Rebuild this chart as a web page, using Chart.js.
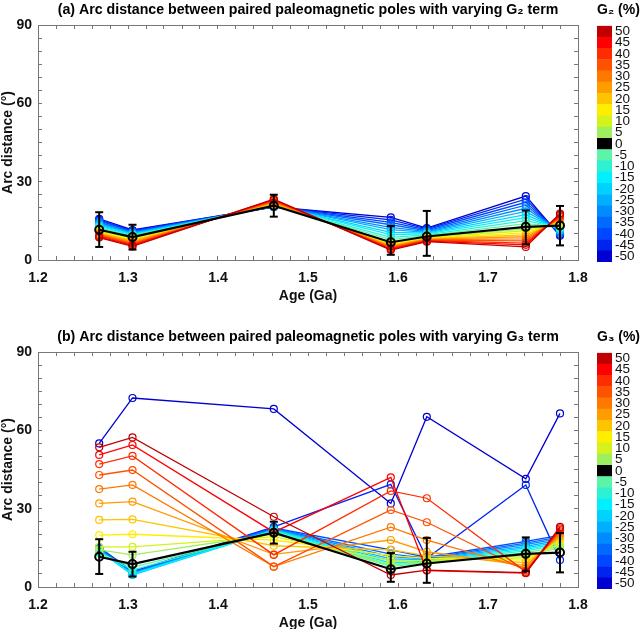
<!DOCTYPE html>
<html lang="en">
<head>
<meta charset="UTF-8">
<title>Arc distance between paired paleomagnetic poles</title>
<script src="https://cdn.jsdelivr.net/npm/chart.js"></script>
<style>
  html, body {margin: 0; padding: 0; background: #fff; overflow: hidden;}
  #page {position: relative; width: 640px; height: 629px;}
  .panel {position: absolute; left: 0; width: 640px; height: 310px;}
  .cbar {position: absolute; left: 588px; width: 52px; height: 310px;}
</style>
</head>
<body>
<div id="page">
  <div class="panel" style="top:0"><canvas id="chartA"></canvas></div>
  <div class="cbar" style="top:0"><canvas id="cbarA"></canvas></div>
  <div class="panel" style="top:327px"><canvas id="chartB"></canvas></div>
  <div class="cbar" style="top:327px"><canvas id="cbarB"></canvas></div>
</div>
<script>
// ages of the paired poles (Ga)
const ages = [1.268, 1.305, 1.462, 1.592, 1.632, 1.742, 1.78];

// G = 0 reference line and its error bars (arc distance, degrees)
const baseArc = [11.6, 8.8, 20.8, 6.8, 9.0, 12.7, 13.2];
const errLow  = [5.0, 4.0, 16.6, 2.0, 1.6, 6.0, 5.6];
const errHigh = [18.3, 13.5, 25.0, 13.0, 18.8, 19.0, 20.7];

// colorbar levels (%), top to bottom
const cbarLevels = [50, 45, 40, 35, 30, 25, 20, 15, 10, 5, 0, -5, -10, -15, -20, -25, -30, -35, -40, -45, -50];

// levels drawn as coloured lines (same order as the rows below)
const lineLevels = [50, 45, 40, 35, 30, 25, 20, 15, 10, 5, -5, -10, -15, -20, -25, -30, -35, -40, -45, -50];

// panel (a): varying G2
const g2Arc = [
  [8.6, 5.2, 23.3, 3.8, 7.0, 5.0, 17.8],
  [8.9, 5.6, 23.1, 4.1, 7.2, 5.8, 17.3],
  [9.2, 5.9, 22.8, 4.4, 7.4, 6.5, 16.9],
  [9.5, 6.3, 22.6, 4.7, 7.6, 7.3, 16.4],
  [9.8, 6.6, 22.3, 5.0, 7.8, 8.1, 16.0],
  [10.1, 7.0, 22.1, 5.3, 8.0, 8.9, 15.5],
  [10.4, 7.4, 21.8, 5.6, 8.2, 9.6, 15.0],
  [10.7, 7.7, 21.6, 5.9, 8.4, 10.4, 14.6],
  [11.0, 8.1, 21.3, 6.2, 8.6, 11.2, 14.1],
  [11.3, 8.4, 21.1, 6.5, 8.8, 11.9, 13.7],
  [12.0, 9.1, 20.8, 7.8, 9.3, 13.9, 12.8],
  [12.4, 9.3, 20.7, 8.7, 9.6, 15.1, 12.4],
  [12.9, 9.6, 20.7, 9.7, 10.0, 16.2, 12.0],
  [13.3, 9.9, 20.6, 10.6, 10.3, 17.4, 11.6],
  [13.7, 10.2, 20.6, 11.6, 10.6, 18.6, 11.3],
  [14.1, 10.4, 20.5, 12.5, 10.9, 19.8, 10.9],
  [14.5, 10.7, 20.5, 13.5, 11.2, 21.0, 10.5],
  [15.0, 11.0, 20.4, 14.4, 11.6, 22.1, 10.1],
  [15.4, 11.2, 20.4, 15.4, 11.9, 23.3, 9.7],
  [15.8, 11.5, 20.3, 16.3, 12.2, 24.5, 9.3]
];

// panel (b): varying G3
const g3Arc = [
  [53.5, 57.3, 26.9, 4.6, 6.5, 5.5, 23.0],
  [50.6, 54.4, 21.0, 42.0, 6.3, 5.3, 22.5],
  [47.1, 50.2, 12.3, 36.8, 34.0, 5.8, 22.0],
  [42.9, 44.8, 7.8, 29.5, 24.8, 6.3, 21.3],
  [37.5, 39.1, 7.8, 22.9, 18.0, 7.2, 20.5],
  [32.0, 32.7, 12.5, 18.0, 13.5, 8.2, 19.7],
  [25.7, 25.9, 15.8, 14.2, 12.0, 9.3, 18.8],
  [19.9, 20.2, 18.0, 12.0, 11.0, 10.3, 17.8],
  [15.4, 15.4, 19.3, 10.0, 10.2, 11.2, 16.5],
  [14.2, 12.3, 20.3, 8.5, 9.6, 12.0, 15.0],
  [13.0, 7.5, 21.2, 7.8, 9.3, 13.2, 15.5],
  [13.3, 6.5, 21.4, 8.5, 9.6, 13.8, 16.2],
  [13.7, 5.0, 21.6, 9.2, 9.9, 14.4, 16.8],
  [14.0, 4.6, 21.8, 10.0, 10.2, 15.0, 17.4],
  [14.3, 4.8, 22.0, 10.8, 10.5, 15.6, 18.0],
  [14.6, 5.2, 22.2, 11.6, 10.8, 16.2, 18.6],
  [14.8, 5.5, 22.4, 12.6, 11.1, 16.8, 19.2],
  [15.0, 5.8, 22.6, 14.2, 11.4, 17.5, 19.8],
  [15.2, 6.0, 23.0, 39.3, 11.0, 39.1, 10.3],
  [55.0, 72.4, 68.2, 32.0, 65.2, 41.4, 66.5]
];

// colours for cbarLevels (jet-like, black for 0)
const cbarColors = ['#c00000', '#ff0000', '#ff2c00', '#ff5200', '#ff7800', '#ff9c00', '#ffc400', '#ffee00', '#d4f21c', '#9cf060',
                    '#000000', '#5cf5a8', '#2ef0d2', '#00f0ff', '#00d2ff', '#00b0ff', '#008cff', '#006aff', '#0048ff', '#0024f0', '#0000d0'];

const fontFam = "'Liberation Sans', Arial, Helvetica, sans-serif";
const axisGray = '#777';

function colorOf(lv){
  return cbarColors[cbarLevels.indexOf(lv)];
}

function makePanel(id, title, values){
  const sets = [];
  sets.push({
    data: ages.map((a, j) => ({x: a, y: baseArc[j]})),
    borderColor: '#000', borderWidth: 2.2,
    pointRadius: 4, pointBorderWidth: 2, pointBorderColor: '#000', pointBackgroundColor: 'rgba(0,0,0,0)',
    order: 0
  });
  ages.forEach((a, j) => {
    sets.push({
      data: [{x: a, y: errLow[j]}, {x: a, y: errHigh[j]}],
      borderColor: '#000', borderWidth: 2,
      pointStyle: 'line', pointRadius: 4, pointBorderWidth: 2, pointBorderColor: '#000',
      order: 0
    });
  });
  lineLevels.forEach((lv, i) => {
    sets.push({
      data: ages.map((a, j) => ({x: a, y: values[i][j]})),
      borderColor: colorOf(lv), borderWidth: 1.3,
      pointRadius: 3.5, pointBorderWidth: 1.2, pointBorderColor: colorOf(lv), pointBackgroundColor: 'rgba(0,0,0,0)',
      order: 1
    });
  });

  const inTicks = {display: true, drawOnChartArea: false, drawTicks: true, tickLength: -4, color: axisGray};
  const tickFont = {family: fontFam, size: 14, weight: 'bold'};

  new Chart(document.getElementById(id), {
    type: 'line',
    data: {datasets: sets},
    options: {
      responsive: true, maintainAspectRatio: false, animation: false,
      layout: {padding: {left: 0, right: 62, top: 0, bottom: 0}},
      plugins: {
        legend: {display: false},
        tooltip: {enabled: false},
        title: {display: true, text: title, fullSize: false, color: '#000',
                font: {family: fontFam, size: 14.2, weight: 'bold'}, padding: {top: 1.5, bottom: 6.5}}
      },
      scales: {
        x: {
          type: 'linear', position: 'bottom', min: 1.2, max: 1.8,
          ticks: {stepSize: 0.02, maxTicksLimit: 100, autoSkip: false, maxRotation: 0, padding: 14, color: '#111', font: tickFont,
                  callback: v => (Math.round(v * 100) % 10 === 0) ? v.toFixed(1) : ''},
          grid: inTicks, border: {color: axisGray, width: 1},
          title: {display: true, text: 'Age (Ga)', color: '#111', font: tickFont, padding: {top: 0, bottom: 5}},
          afterFit: s => { s.height = 50; }
        },
        xTop: {
          type: 'linear', position: 'top', min: 1.2, max: 1.8,
          ticks: {display: false, stepSize: 0.02, maxTicksLimit: 100},
          grid: inTicks, border: {color: axisGray, width: 1},
          afterFit: s => { s.height = 0; }
        },
        y: {
          type: 'linear', position: 'left', min: 0, max: 90,
          ticks: {stepSize: 5, autoSkip: false, padding: 10, color: '#111', font: tickFont,
                  callback: v => (v % 30 === 0) ? String(v) : ''},
          grid: inTicks, border: {color: axisGray, width: 1},
          title: {display: true, text: 'Arc distance (°)', color: '#111', font: tickFont, padding: {top: 0, bottom: 0}},
          afterFit: s => { s.width = 38; }
        },
        yRight: {
          type: 'linear', position: 'right', min: 0, max: 90,
          ticks: {display: false, stepSize: 5},
          grid: inTicks, border: {color: axisGray, width: 1},
          afterFit: s => { s.width = 0; }
        }
      }
    }
  });
}

function makeColorbar(id, title){
  new Chart(document.getElementById(id), {
    type: 'bar',
    data: {
      labels: cbarLevels.map(String),
      datasets: [{data: cbarLevels.map(() => 1), backgroundColor: cbarColors, borderWidth: 0,
                  barPercentage: 1, categoryPercentage: 1}]
    },
    options: {
      indexAxis: 'y', responsive: true, maintainAspectRatio: false, animation: false,
      layout: {padding: {left: 9, right: 0, top: 0, bottom: 48}},
      plugins: {
        legend: {display: false},
        tooltip: {enabled: false},
        title: {display: true, text: title, color: '#000', font: {family: fontFam, size: 14, weight: 'bold'}, padding: {top: 2, bottom: 7}}
      },
      scales: {
        x: {display: false, min: 0, max: 1},
        y: {
          position: 'right',
          ticks: {autoSkip: false, padding: 3, color: '#111', font: {family: fontFam, size: 13.5}},
          grid: {display: false, drawTicks: false, tickLength: 0}, border: {display: false},
          afterFit: s => { s.width = 28; }
        }
      }
    }
  });
}

makePanel('chartA', '(a) Arc distance between paired paleomagnetic poles with varying G₂ term', g2Arc);
makePanel('chartB', '(b) Arc distance between paired paleomagnetic poles with varying G₃ term', g3Arc);
makeColorbar('cbarA', 'G₂ (%)');
makeColorbar('cbarB', 'G₃ (%)');
</script>
</body>
</html>
